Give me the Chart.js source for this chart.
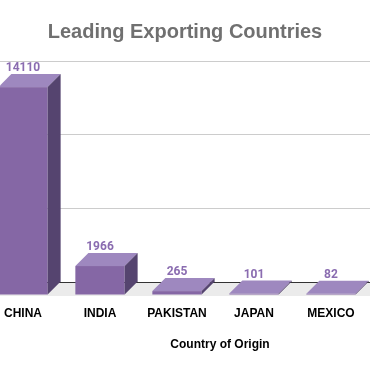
<!DOCTYPE html>
<html>
<head>
<meta charset="utf-8">
<script src="https://cdn.jsdelivr.net/npm/chart.js@4.4.0/dist/chart.umd.min.js"></script>
<style>
  html, body { margin: 0; padding: 0; background: #fff; }
  #wrap { width: 370px; height: 371px; }
</style>
</head>
<body>
<div id="wrap"><canvas id="chart"></canvas></div>
<script>
const countries = ["CHINA", "INDIA", "PAKISTAN", "JAPAN", "MEXICO"];
const exports = [14110, 1966, 265, 101, 82];
const yTicks = [0, 5000, 10000, 15000];

const DEPTH = 13;
const FRONT = "#8567a5";
const TOP = "#9e88bf";
const SIDE = "#55446f";

// floor, 3d boxes, value labels and the axis title
const bars3d = {
  id: "bars3d",
  beforeDatasetsDraw(chart) {
    const ctx = chart.ctx;
    const area = chart.chartArea;
    const base = chart.scales.y.getPixelForValue(0);
    ctx.save();
    ctx.fillStyle = "#ebebeb";
    ctx.beginPath();
    ctx.moveTo(area.left, base);
    ctx.lineTo(area.right + DEPTH, base);
    ctx.lineTo(area.right, base + DEPTH + 1);
    ctx.lineTo(area.left - DEPTH, base + DEPTH + 1);
    ctx.closePath();
    ctx.fill();
    ctx.strokeStyle = "#333";
    ctx.lineWidth = 1;
    ctx.beginPath();
    ctx.moveTo(area.left, base + 0.5);
    ctx.lineTo(area.right, base + 0.5);
    ctx.stroke();
    ctx.restore();
  },
  afterDatasetsDraw(chart) {
    const ctx = chart.ctx;
    const meta = chart.getDatasetMeta(0);
    ctx.save();
    meta.data.forEach((bar, i) => {
      const w = bar.width;
      const bl = bar.x - w / 2, br = bar.x + w / 2;
      const bt = bar.y, bb = bar.base;
      const fl = bl - DEPTH, fr = br - DEPTH;
      const ft = bt + DEPTH, fb = bb + DEPTH;

      ctx.fillStyle = FRONT;
      ctx.fillRect(fl, ft, w, fb - ft);

      ctx.fillStyle = TOP;
      ctx.beginPath();
      ctx.moveTo(fl, ft);
      ctx.lineTo(bl, bt);
      ctx.lineTo(br, bt);
      ctx.lineTo(fr, ft);
      ctx.closePath();
      ctx.fill();

      ctx.fillStyle = SIDE;
      ctx.beginPath();
      ctx.moveTo(fr, ft);
      ctx.lineTo(br, bt);
      ctx.lineTo(br, bb);
      ctx.lineTo(fr, fb);
      ctx.closePath();
      ctx.fill();

      ctx.fillStyle = "#8a6cb0";
      ctx.font = "bold 12px Roboto, 'Liberation Sans', sans-serif";
      ctx.textAlign = "center";
      ctx.textBaseline = "alphabetic";
      ctx.fillText(String(exports[i]), bar.x - DEPTH, bt - 3);
    });
    ctx.restore();
  },
  afterDraw(chart) {
    const ctx = chart.ctx;
    const x = chart.scales.x;
    ctx.save();
    ctx.fillStyle = "#000";
    ctx.font = "bold 12px 'Liberation Sans', Arial, sans-serif";
    ctx.textAlign = "center";
    ctx.textBaseline = "middle";
    ctx.fillText("Country of Origin", (x.left + x.right) / 2 + 35, 345);
    ctx.restore();
  }
};

new Chart(document.getElementById("chart"), {
  type: "bar",
  data: {
    datasets: [{
      label: "Exports",
      data: exports.map((v, i) => ({ x: i, y: v })),
      backgroundColor: "rgba(0,0,0,0)",
      categoryPercentage: 1,
      barPercentage: 0.64
    }]
  },
  options: {
    responsive: true,
    maintainAspectRatio: false,
    animation: false,
    layout: { padding: 0, autoPadding: false },
    plugins: {
      legend: { display: false },
      tooltip: { enabled: false },
      title: {
        display: true,
        text: "Leading Exporting Countries",
        color: "#707070",
        font: { family: "'Liberation Sans', Arial, sans-serif", size: 20, weight: "bold" },
        padding: { top: 20, bottom: 17 }
      }
    },
    scales: {
      x: {
        type: "linear",
        offset: false,
        min: -0.4675,
        max: 4.338,
        afterBuildTicks(axis) {
          axis.ticks = countries.map((c, i) => ({ value: i }));
        },
        afterFit(axis) {
          axis.height = 89;
          axis.paddingLeft = 0;
          axis.paddingRight = 0;
        },
        grid: { display: false, drawTicks: false },
        border: { display: false },
        ticks: {
          color: "#000",
          padding: 24,
          labelOffset: -DEPTH,
          maxRotation: 0,
          autoSkip: false,
          callback: (v) => countries[v],
          font: { family: "'Liberation Sans', Arial, sans-serif", size: 12, weight: "bold" }
        }
      },
      y: {
        min: 0,
        max: 15000,
        afterBuildTicks(axis) {
          axis.ticks = yTicks.map(v => ({ value: v }));
        },
        afterFit(axis) { axis.width = 0; },
        grid: { color: "#cccccc", drawTicks: false },
        border: { display: false },
        ticks: { display: false }
      }
    }
  },
  plugins: [bars3d]
});
</script>
</body>
</html>
